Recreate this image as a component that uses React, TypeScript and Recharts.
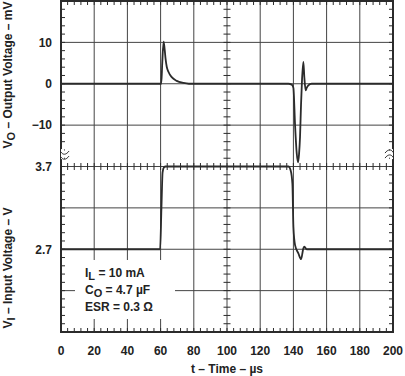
import React from 'react';
import {
  ComposedChart,
  Line,
  Scatter,
  XAxis,
  YAxis,
  CartesianGrid,
  ReferenceArea,
} from 'recharts';

const FONT = '"Liberation Sans", Arial, Helvetica, sans-serif';
const INK = '#2b2b2b';

// axes
const timeTicks = [0, 20, 40, 60, 80, 100, 120, 140, 160, 180, 200];
const outDomain = [-60, 20];
const inDomain = [1.7, 5.7];
const outGridTicks = [-60, -50, -40, -30, -20, -10, 0, 10, 20];
const outLabelTicks = [-10, 0, 10];
const inTicks = [2.7, 3.7];

// output voltage, mV
const outTime = [
  0, 60.4, 61.0, 61.8, 62.4, 63.0, 63.7, 64.7, 66.7, 69.7, 73.7, 77,
  137, 139, 140, 141, 142, 142.8, 143.4, 144, 144.6, 145.2, 146, 146.6, 147.4, 148, 149, 151, 200,
];
const outMv = [
  0, 0, 5, 10.2, 8.5, 6, 4.1, 2.9, 1.6, 0.7, 0.2, 0,
  0, -0.2, -1, -10, -16.8, -19, -17, -12.8, -5, 1, 5.3, 1.5, -1.6, -1.0, -0.4, 0, 0,
];

// input voltage, V
const inTime = [0, 59.7, 60.5, 61.2, 62.0, 63.0, 137, 138.4, 139.4, 140, 141, 143, 144.6, 146, 146.6, 148, 200];
const inVolt = [2.7, 2.7, 3.2, 3.63, 3.69, 3.7, 3.7, 3.65, 3.49, 2.97, 2.75, 2.65, 2.58, 2.71, 2.73, 2.7, 2.7];

// minor division ticks
const minorTime = Array.from({ length: 51 }, (_, i) => i * 4);
const minorMv = Array.from({ length: 41 }, (_, i) => -60 + i * 2);
const breakAt = -17;

const outData = outTime.map((t, i) => ({ t, v: outMv[i] }));
const inData = inTime.map((t, i) => ({ t, v: inVolt[i] }));

const topTicks = minorTime.map((t) => ({ t, v: 20 }));
const bottomTicks = minorTime.map((t) => ({ t, v: -60 }));
const midHTicks = minorTime.map((t) => ({ t, v: -20 }));
const leftTicks = minorMv.map((v) => ({ t: 0, v }));
const rightTicks = minorMv.map((v) => ({ t: 200, v }));
const midVTicks = minorMv.map((v) => ({ t: 100, v }));
const breakMarks = [{ t: 0, v: breakAt }, { t: 200, v: breakAt }];

// the input scale shares the left axis: find where an input tick sits on the mV scale
const inToOut = (v: number) =>
  outDomain[0] + ((v - inDomain[0]) / (inDomain[1] - inDomain[0])) * (outDomain[1] - outDomain[0]);

const fmtLeft = (v: number) => {
  if (outLabelTicks.includes(v)) return v < 0 ? `\u2212${-v}` : `${v}`;
  const hit = inTicks.find((x) => Math.abs(inToOut(x) - v) < 1e-6);
  return hit !== undefined ? hit.toFixed(1) : '';
};

const tickShape = (x1: number, y1: number, x2: number, y2: number) => (p: any) => (
  <line x1={p.cx + x1} y1={p.cy + y1} x2={p.cx + x2} y2={p.cy + y2} stroke={INK} strokeWidth={1} />
);

const breakShape = (p: any) => (
  <g>
    <rect x={p.cx - 3} y={p.cy - 5} width={6} height={10} fill="#fff" />
    <path
      d={`M${p.cx - 8},${p.cy - 1} c3,-4 6,-4 8,-1 s5,3 8,-1 M${p.cx - 8},${p.cy + 4} c3,-4 6,-4 8,-1 s5,3 8,-1`}
      stroke={INK}
      strokeWidth={1}
      fill="none"
    />
  </g>
);

const tickStyle = { fill: '#222', fontSize: 12, fontWeight: 'bold', fontFamily: FONT };

const sub = (s: string) => (
  <span style={{ fontSize: 11, position: 'relative', top: 3 }}>{s}</span>
);

const rotTitle: React.CSSProperties = {
  position: 'absolute',
  width: 200,
  height: 16,
  lineHeight: '16px',
  textAlign: 'center',
  transform: 'rotate(-90deg)',
  fontFamily: FONT,
  fontWeight: 'bold',
  fontSize: 12,
  color: '#222',
  whiteSpace: 'nowrap',
};

const App: React.FC = () => {
  return (
    <div style={{ position: 'absolute', left: 0, top: 0, width: 405, height: 376, background: '#fff' }}>
      <ComposedChart width={405} height={376} margin={{ top: 1, right: 12, left: 0, bottom: 0 }}>
        <CartesianGrid yAxisId="out" stroke="#444" strokeWidth={1} />
        <XAxis
          dataKey="t"
          type="number"
          domain={[0, 200]}
          ticks={timeTicks}
          allowDataOverflow
          height={44}
          axisLine={false}
          tickLine={false}
          tickSize={0}
          tickMargin={14}
          tick={tickStyle}
        />
        <YAxis
          yAxisId="out"
          dataKey="v"
          type="number"
          domain={outDomain}
          ticks={outGridTicks}
          allowDataOverflow
          width={61}
          axisLine={false}
          tickLine={false}
          tickSize={0}
          tickMargin={9}
          tickFormatter={fmtLeft}
          tick={{ ...tickStyle, dy: '0.52em' }}
        />
        <YAxis yAxisId="in" dataKey="v" type="number" domain={inDomain} allowDataOverflow hide width={0} />
        <ReferenceArea
          yAxisId="out"
          x1={0}
          x2={200}
          y1={-60}
          y2={20}
          fill="none"
          stroke={INK}
          strokeWidth={2}
        />
        <Scatter yAxisId="out" data={topTicks} shape={tickShape(0, 0, 0, 4)} isAnimationActive={false} />
        <Scatter yAxisId="out" data={bottomTicks} shape={tickShape(0, -4, 0, 0)} isAnimationActive={false} />
        <Scatter yAxisId="out" data={midHTicks} shape={tickShape(0, -3.5, 0, 3.5)} isAnimationActive={false} />
        <Scatter yAxisId="out" data={leftTicks} shape={tickShape(0, 0, 4, 0)} isAnimationActive={false} />
        <Scatter yAxisId="out" data={rightTicks} shape={tickShape(-4, 0, 0, 0)} isAnimationActive={false} />
        <Scatter yAxisId="out" data={midVTicks} shape={tickShape(-3.5, 0, 3.5, 0)} isAnimationActive={false} />
        <Scatter yAxisId="out" data={breakMarks} shape={breakShape} isAnimationActive={false} />
        <Line
          yAxisId="out"
          data={outData}
          dataKey="v"
          type="monotone"
          stroke={INK}
          strokeWidth={1.8}
          dot={false}
          activeDot={false}
          isAnimationActive={false}
        />
        <Line
          yAxisId="in"
          data={inData}
          dataKey="v"
          type="monotone"
          stroke={INK}
          strokeWidth={1.8}
          dot={false}
          activeDot={false}
          isAnimationActive={false}
        />
      </ComposedChart>

      {/* parameter box */}
      <div
        style={{
          position: 'absolute',
          left: 75,
          top: 260,
          width: 100,
          height: 59,
          background: '#fff',
          boxSizing: 'border-box',
          paddingLeft: 10,
          paddingTop: 5,
          fontFamily: FONT,
          fontWeight: 'bold',
          fontSize: 12,
          lineHeight: '17px',
          color: '#222',
          whiteSpace: 'nowrap',
        }}
      >
        <div>I{sub('L')} = 10 mA</div>
        <div>C{sub('O')} = 4.7 µF</div>
        <div>ESR = 0.3 Ω</div>
      </div>

      {/* axis titles */}
      <div style={{ ...rotTitle, left: 7.5 - 100, top: 75 - 8 }}>
        V{sub('O')} – Output Voltage – mV
      </div>
      <div style={{ ...rotTitle, left: 7.5 - 100, top: 268 - 8 }}>
        V{sub('I')} – Input Voltage – V
      </div>
      <div
        style={{
          position: 'absolute',
          left: 227 - 100,
          top: 362,
          width: 200,
          lineHeight: '14px',
          textAlign: 'center',
          fontFamily: FONT,
          fontWeight: 'bold',
          fontSize: 12,
          color: '#222',
          whiteSpace: 'nowrap',
        }}
      >
        t – Time – µs
      </div>
    </div>
  );
};

export default App;
